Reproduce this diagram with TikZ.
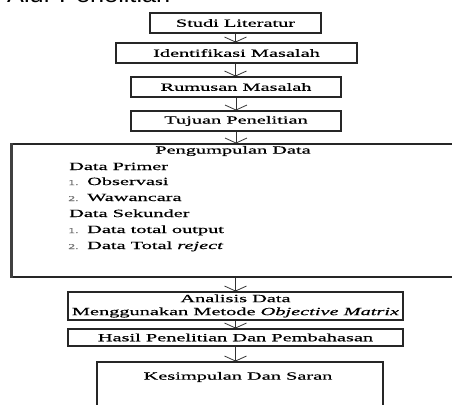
\documentclass[tikz,border=0pt]{standalone}
\usepackage{fontspec}
\setmainfont{Liberation Serif}[FakeStretch=1.85,FakeBold=0.5]
\newfontfamily\titlefont{Liberation Sans}[Scale=2.2,FakeStretch=1.15]
\usetikzlibrary{arrows.meta}
\begin{document}
\begin{tikzpicture}[x=1pt,y=-1pt,
  box/.style={draw=black!85,line width=1.1pt,inner sep=0pt,
    font=\fontsize{11}{13}\selectfont,align=center},
  arr/.style={draw=black!80,line width=0.9pt,
    -{Straight Barb[width=22pt,length=5pt,line width=0.8pt]}},
  lst/.style={anchor=base west,inner sep=0pt,font=\fontsize{11}{13}\selectfont},
  num/.style={anchor=base west,inner sep=0pt,font=\fontsize{7.5}{8}\selectfont,text=black!55}]
\useasboundingbox (0,0) rectangle (452,404);
\clip (0,0) rectangle (452,404);
% cut-off heading
\node[anchor=base west,inner sep=0pt,font=\titlefont] (ttl) at (7,3) {Alur Penelitian};
% boxes
\node[box,minimum width=171pt,minimum height=20pt] (s1) at (235.5,23) {Studi Literatur};
\node[box,minimum width=241pt,minimum height=20pt] (s2) at (236.5,53) {Identifikasi Masalah};
\node[box,minimum width=210pt,minimum height=20pt] (s3) at (236,87) {Rumusan Masalah};
\node[box,minimum width=210pt,minimum height=20pt] (s4) at (236,121) {Tujuan Penelitian};
\node[box,minimum width=458pt,minimum height=133pt] (pd) at (241,210.5) {};
\draw[draw=black!75,line width=2.4pt] (pd.north west) -- (pd.south west);
\node[box,minimum width=335pt,minimum height=28pt] (s6) at (235.5,306) {Analisis Data\\Menggunakan Metode \textit{Objective Matrix}};
\node[box,minimum width=335pt,minimum height=17pt] (s7) at (235.5,337.5) {Hasil Penelitian Dan Pembahasan};
\node[box,minimum width=286pt,minimum height=53pt] (s8) at (240,388.5) {};
\node[inner sep=0pt,font=\fontsize{11}{13}\selectfont] (s8t) at (238,377) {Kesimpulan Dan Saran};
% contents of Pengumpulan Data
\node[inner sep=0pt,font=\fontsize{11}{13}\selectfont] (pdt) at (233,151) {Pengumpulan Data};
\node[lst] (dp) at (69,170) {Data Primer};
\node[num] (n1) at (68,185) {1.};
\node[lst] (o1) at (87,185) {Observasi};
\node[num] (n2) at (68,201) {2.};
\node[lst] (o2) at (87,201) {Wawancara};
\node[lst] (ds) at (69,217) {Data Sekunder};
\node[num] (n3) at (68,233) {1.};
\node[lst] (o3) at (87,233) {Data total output};
\node[num] (n4) at (68,249) {2.};
\node[lst] (o4) at (87,249) {Data Total \textit{reject}};
% arrows
\draw[arr] (s1.south) -- (s1.south |- s2.north);
\draw[arr] (s1.south |- s2.south) -- (s1.south |- s3.north);
\draw[arr] (s3.south) -- (s3.south |- s4.north);
\draw[arr] (s4.south) -- (s4.south |- pd.north);
\draw[arr] (s6.north |- pd.south) -- (s6.north);
\draw[arr] (s7.north |- s6.south) -- (s7.north);
\draw[arr] (s7.south) -- (s7.south |- s8.north);
\end{tikzpicture}
\end{document}
